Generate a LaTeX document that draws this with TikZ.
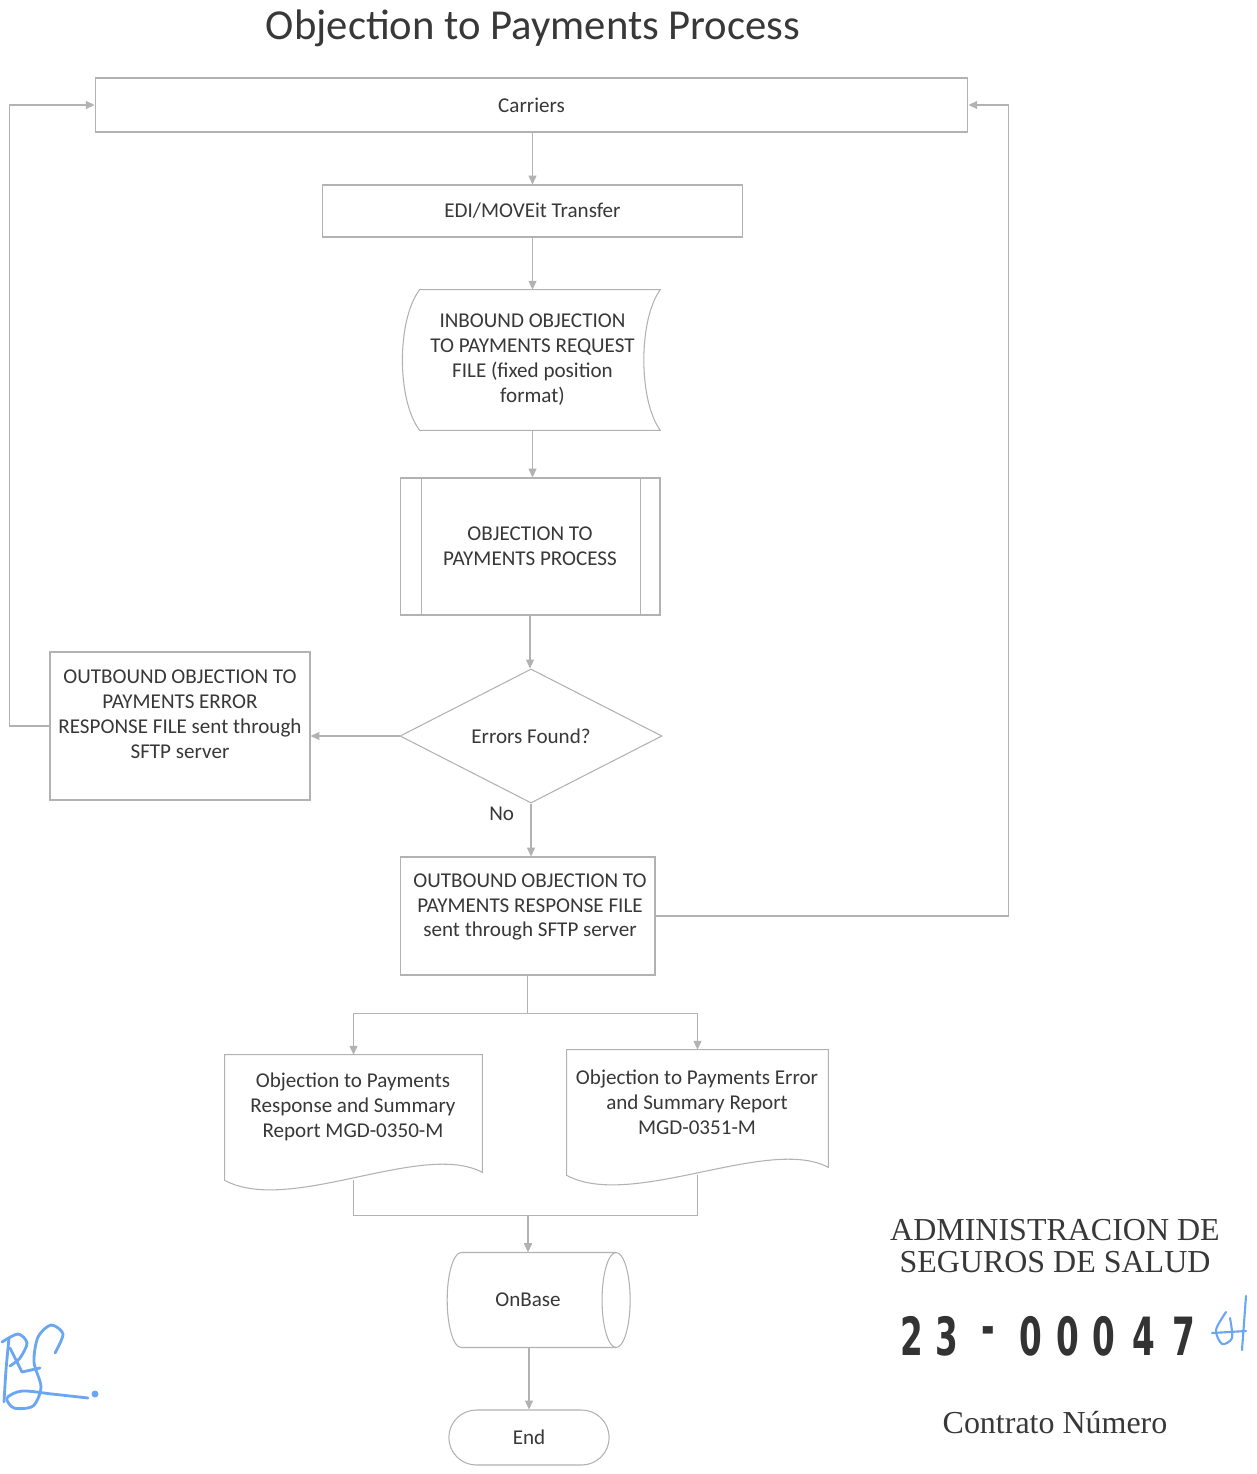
\documentclass[tikz,border=0pt]{standalone}
\usepackage{fontspec}
\setmainfont{Carlito}
\newfontfamily\stampfont{Liberation Serif}
\newfontfamily\digitfont{DejaVu Sans}
\usetikzlibrary{shapes.geometric,shapes.misc,arrows.meta,calc}
\definecolor{lineC}{gray}{0.70}
\definecolor{txtC}{gray}{0.22}
\definecolor{sigC}{HTML}{6AA6F2}
\begin{document}
\begin{tikzpicture}[x=0.02cm,y=-0.02cm,
  shp/.style={draw=lineC, line width=0.6pt},
  lbl/.style={text=txtC, font=\fontsize{12}{14.2}\selectfont, align=center},
  conn/.style={draw=lineC, line width=0.6pt, -{Triangle[length=5pt,width=4.5pt]}},
  stamp/.style={text=black!78, font=\stampfont\fontsize{18.2}{20}\selectfont},
  digit/.style={text=black!80, font=\digitfont\bfseries\fontsize{30}{30}\selectfont, inner sep=0},
  sig/.style={draw=sigC, line width=1.6pt, line cap=round, line join=round}]
\useasboundingbox[fill=white] (0,0) rectangle (1257,1474);

% title
\node[text=txtC, font=\fontsize{24.3}{27}\selectfont] (title) at (533,28) {Objection to Payments Process};

% Carriers and transfer
\node[shp, lbl, minimum width=17.46cm, minimum height=1.08cm] (car) at (531.5,105) {Carriers};
\node[shp, lbl, minimum width=8.42cm, minimum height=1.04cm] (edi) at (532.5,211) {EDI/MOVEit Transfer};

% inbound stored-data file
\node[lbl, minimum width=5.1cm, minimum height=2.8cm, inner sep=0] (inb) at (532.5,360)
  {INBOUND OBJECTION\\TO PAYMENTS REQUEST\\FILE (fixed position\\format)};
\draw[shp] ($(inb.north west)+(15,0)$) -- (inb.north east)
  .. controls ($(inb.north east)+(-22,30)$) and ($(inb.south east)+(-22,-30)$) .. (inb.south east)
  -- ($(inb.south west)+(15,0)$)
  .. controls ($(inb.south west)+(-8,-30)$) and ($(inb.north west)+(-8,30)$) .. cycle;

% predefined process
\node[shp, lbl, minimum width=5.2cm, minimum height=2.74cm] (proc) at (530,546.5) {OBJECTION TO\\PAYMENTS PROCESS};
\draw[shp] ($(proc.north west)+(22,0)$) -- ($(proc.south west)+(22,0)$);
\draw[shp] ($(proc.north east)+(-20,0)$) -- ($(proc.south east)+(-20,0)$);

% decision
\node[diamond, shp, lbl, minimum width=5.24cm, minimum height=2.68cm, inner sep=0] (dec) at (531,736) {Errors Found?};

% error response file
\node[shp, minimum width=5.2cm, minimum height=2.96cm] (err) at (180,726) {};
\node[lbl] (errT) at (180,714) {OUTBOUND OBJECTION TO\\PAYMENTS ERROR\\RESPONSE FILE sent through\\SFTP server};

% response file
\node[shp, minimum width=5.1cm, minimum height=2.36cm] (resp) at (527.5,916) {};
\node[lbl] (respT) at (530,907) {OUTBOUND OBJECTION TO\\PAYMENTS RESPONSE FILE\\sent through SFTP server};

% report documents
\node[minimum width=5.14cm, minimum height=2.5cm, inner sep=0] (ldoc) at (353.5,1117.5) {};
\draw[shp] (ldoc.north west) -- (ldoc.north east) -- ($(ldoc.south east)+(0,-8)$)
  .. controls ($(ldoc.south east)+(-60,-40)$) and ($(ldoc.south west)+(65,35)$) .. (ldoc.south west) -- cycle;
\node[lbl] (ldocT) at (353,1107) {Objection to Payments\\Response and Summary\\Report MGD-0350-M};

\node[minimum width=5.22cm, minimum height=2.5cm, inner sep=0] (rdoc) at (697.5,1112.5) {};
\draw[shp] (rdoc.north west) -- (rdoc.north east) -- ($(rdoc.south east)+(0,-8)$)
  .. controls ($(rdoc.south east)+(-60,-40)$) and ($(rdoc.south west)+(65,35)$) .. (rdoc.south west) -- cycle;
\node[lbl] (rdocT) at (697,1102) {Objection to Payments Error\\and Summary Report\\MGD-0351-M};

% OnBase and End
\node[cylinder, shp, lbl, minimum height=3.66cm, minimum width=1.9cm, aspect=1.1, shape border rotate=0] (onb) at (528,1300) {OnBase};
\node[rounded rectangle, shp, lbl, minimum width=3.44cm, minimum height=1.1cm] (end) at (529,1437.5) {End};

% connectors
\draw[conn] (edi.north |- car.south) -- (edi.north);
\draw[conn] (edi.south) -- (inb.north -| edi.south);
\draw[conn] (inb.south) -- (proc.north -| inb.south);
\draw[conn] (proc.south) -- (dec.north -| proc.south);
\draw[conn] (dec.west) -- (dec.west -| err.east);
\draw[conn] (dec.south) -- node[lbl, pos=0.2, left=6pt] {No} (resp.north -| dec.south);
\draw[conn] (err.west) -- ++(-40,0) |- (car.west);
\draw[conn] (resp.east) -- ++(353,0) |- (car.east);
\draw[conn] (resp.south) -- ++(0,38) -| (ldoc.north);
\draw[conn] (resp.south) -- ++(0,38) -| (rdoc.north);
\draw[conn] (ldoc.south) -- ++(0,35) -| (onb.north);
\draw[conn] (rdoc.south) -- ++(0,40) -| (onb.north);
\draw[conn] (end.north |- onb.south) -- (end.north);

% stamp
\node[stamp] (st1) at (1055,1230) {ADMINISTRACION DE};
\node[stamp] (st2) at (1055,1262) {SEGUROS DE SALUD};
\foreach \c/\x in {2/912,3/947,-/988,0/1031,0/1068,0/1104,4/1144,7/1184}
  \node[digit] (d\x) at (\x,1336) {\scalebox{0.62}[1]{\c}};
\node[stamp] (st3) at (1055,1423) {Contrato Número};

% handwritten marks
\draw[sig, line width=1.2pt] (1246,1296) -- (1242,1350);
\draw[sig, line width=1.2pt] plot[smooth] coordinates {(1226,1312) (1216,1330) (1222,1344) (1232,1338) (1230,1318)};
\draw[sig, line width=1.2pt] (1212,1333) -- (1246,1331);

% signature
\draw[sig] plot[smooth] coordinates {(4,1402) (6,1370) (9,1338)};
\draw[sig] plot[smooth] coordinates {(2,1342) (18,1334) (27,1343) (20,1358) (10,1366)};
\draw[sig] (10,1348) -- (22,1372) -- (40,1368);
\draw[sig] plot[smooth] coordinates {(55,1353) (63,1334) (51,1325) (38,1337) (34,1362) (41,1387) (33,1406) (14,1408) (7,1398) (22,1391) (52,1394) (88,1398)};
\fill[sigC] (95,1394) circle (3.5);
\end{tikzpicture}
\end{document}
